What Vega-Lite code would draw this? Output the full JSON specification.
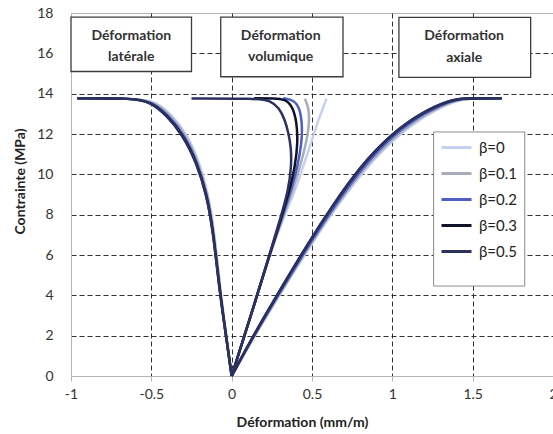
{
  "$schema": "https://vega.github.io/schema/vega-lite/v6.json",
  "width": 482,
  "height": 363,
  "autosize": {"type": "none"},
  "padding": {"left": 71, "top": 13, "right": 0, "bottom": 58},
  "background": "white",
  "config": {
    "view": {"stroke": "#b5b5b5", "strokeWidth": 1},
    "font": "Lato"
  },
  "datasets": {
    "curves": [
      {"beta":"β=0","curve":"lat","i":0,"x":0,"y":0},
      {"beta":"β=0","curve":"lat","i":1,"x":-0.033,"y":2},
      {"beta":"β=0","curve":"lat","i":2,"x":-0.068,"y":4.1},
      {"beta":"β=0","curve":"lat","i":3,"x":-0.11,"y":7.3},
      {"beta":"β=0","curve":"lat","i":4,"x":-0.145,"y":9},
      {"beta":"β=0","curve":"lat","i":5,"x":-0.2,"y":10.6},
      {"beta":"β=0","curve":"lat","i":6,"x":-0.275,"y":11.95},
      {"beta":"β=0","curve":"lat","i":7,"x":-0.37,"y":12.94},
      {"beta":"β=0","curve":"lat","i":8,"x":-0.47,"y":13.6},
      {"beta":"β=0","curve":"lat","i":9,"x":-0.58,"y":13.77},
      {"beta":"β=0","curve":"lat","i":10,"x":-0.96,"y":13.77},
      {"beta":"β=0","curve":"vol","i":0,"x":0,"y":0},
      {"beta":"β=0","curve":"vol","i":1,"x":0.12,"y":3},
      {"beta":"β=0","curve":"vol","i":2,"x":0.235,"y":6},
      {"beta":"β=0","curve":"vol","i":3,"x":0.33,"y":8},
      {"beta":"β=0","curve":"vol","i":4,"x":0.395,"y":9.2},
      {"beta":"β=0","curve":"vol","i":5,"x":0.445,"y":10.4},
      {"beta":"β=0","curve":"vol","i":6,"x":0.49,"y":11.45},
      {"beta":"β=0","curve":"vol","i":7,"x":0.535,"y":12.6},
      {"beta":"β=0","curve":"vol","i":8,"x":0.59,"y":13.75},
      {"beta":"β=0","curve":"ax","i":0,"x":0,"y":0},
      {"beta":"β=0","curve":"ax","i":1,"x":0.105,"y":1.47},
      {"beta":"β=0","curve":"ax","i":2,"x":0.25,"y":3.4},
      {"beta":"β=0","curve":"ax","i":3,"x":0.52,"y":6.85},
      {"beta":"β=0","curve":"ax","i":4,"x":0.645,"y":8.3},
      {"beta":"β=0","curve":"ax","i":5,"x":0.835,"y":10.34},
      {"beta":"β=0","curve":"ax","i":6,"x":1.04,"y":11.98},
      {"beta":"β=0","curve":"ax","i":7,"x":1.23,"y":13.04},
      {"beta":"β=0","curve":"ax","i":8,"x":1.395,"y":13.65},
      {"beta":"β=0","curve":"ax","i":9,"x":1.47,"y":13.77},
      {"beta":"β=0","curve":"ax","i":10,"x":1.68,"y":13.77},

      {"beta":"β=0.1","curve":"lat","i":0,"x":0,"y":0},
      {"beta":"β=0.1","curve":"lat","i":1,"x":-0.034,"y":2},
      {"beta":"β=0.1","curve":"lat","i":2,"x":-0.07,"y":4.1},
      {"beta":"β=0.1","curve":"lat","i":3,"x":-0.113,"y":7.3},
      {"beta":"β=0.1","curve":"lat","i":4,"x":-0.15,"y":9},
      {"beta":"β=0.1","curve":"lat","i":5,"x":-0.207,"y":10.6},
      {"beta":"β=0.1","curve":"lat","i":6,"x":-0.285,"y":11.95},
      {"beta":"β=0.1","curve":"lat","i":7,"x":-0.38,"y":12.94},
      {"beta":"β=0.1","curve":"lat","i":8,"x":-0.485,"y":13.6},
      {"beta":"β=0.1","curve":"lat","i":9,"x":-0.59,"y":13.77},
      {"beta":"β=0.1","curve":"lat","i":10,"x":-0.96,"y":13.77},
      {"beta":"β=0.1","curve":"vol","i":0,"x":0,"y":0},
      {"beta":"β=0.1","curve":"vol","i":1,"x":0.12,"y":3},
      {"beta":"β=0.1","curve":"vol","i":2,"x":0.235,"y":6},
      {"beta":"β=0.1","curve":"vol","i":3,"x":0.325,"y":8},
      {"beta":"β=0.1","curve":"vol","i":4,"x":0.38,"y":9.2},
      {"beta":"β=0.1","curve":"vol","i":5,"x":0.43,"y":10.5},
      {"beta":"β=0.1","curve":"vol","i":6,"x":0.465,"y":11.6},
      {"beta":"β=0.1","curve":"vol","i":7,"x":0.485,"y":12.6},
      {"beta":"β=0.1","curve":"vol","i":8,"x":0.478,"y":13.35},
      {"beta":"β=0.1","curve":"vol","i":9,"x":0.455,"y":13.75},
      {"beta":"β=0.1","curve":"ax","i":0,"x":0,"y":0},
      {"beta":"β=0.1","curve":"ax","i":1,"x":0.104,"y":1.48},
      {"beta":"β=0.1","curve":"ax","i":2,"x":0.247,"y":3.42},
      {"beta":"β=0.1","curve":"ax","i":3,"x":0.515,"y":6.86},
      {"beta":"β=0.1","curve":"ax","i":4,"x":0.638,"y":8.31},
      {"beta":"β=0.1","curve":"ax","i":5,"x":0.825,"y":10.36},
      {"beta":"β=0.1","curve":"ax","i":6,"x":1.027,"y":12.0},
      {"beta":"β=0.1","curve":"ax","i":7,"x":1.217,"y":13.06},
      {"beta":"β=0.1","curve":"ax","i":8,"x":1.384,"y":13.66},
      {"beta":"β=0.1","curve":"ax","i":9,"x":1.46,"y":13.77},
      {"beta":"β=0.1","curve":"ax","i":10,"x":1.68,"y":13.77},

      {"beta":"β=0.2","curve":"lat","i":0,"x":0,"y":0},
      {"beta":"β=0.2","curve":"lat","i":1,"x":-0.035,"y":2},
      {"beta":"β=0.2","curve":"lat","i":2,"x":-0.072,"y":4.1},
      {"beta":"β=0.2","curve":"lat","i":3,"x":-0.115,"y":7.3},
      {"beta":"β=0.2","curve":"lat","i":4,"x":-0.153,"y":9},
      {"beta":"β=0.2","curve":"lat","i":5,"x":-0.213,"y":10.6},
      {"beta":"β=0.2","curve":"lat","i":6,"x":-0.295,"y":11.95},
      {"beta":"β=0.2","curve":"lat","i":7,"x":-0.393,"y":12.94},
      {"beta":"β=0.2","curve":"lat","i":8,"x":-0.498,"y":13.6},
      {"beta":"β=0.2","curve":"lat","i":9,"x":-0.603,"y":13.77},
      {"beta":"β=0.2","curve":"lat","i":10,"x":-0.96,"y":13.77},
      {"beta":"β=0.2","curve":"vol","i":0,"x":0,"y":0},
      {"beta":"β=0.2","curve":"vol","i":1,"x":0.12,"y":3},
      {"beta":"β=0.2","curve":"vol","i":2,"x":0.235,"y":6},
      {"beta":"β=0.2","curve":"vol","i":3,"x":0.32,"y":8},
      {"beta":"β=0.2","curve":"vol","i":4,"x":0.37,"y":9.2},
      {"beta":"β=0.2","curve":"vol","i":5,"x":0.41,"y":10.4},
      {"beta":"β=0.2","curve":"vol","i":6,"x":0.435,"y":11.5},
      {"beta":"β=0.2","curve":"vol","i":7,"x":0.44,"y":12.4},
      {"beta":"β=0.2","curve":"vol","i":8,"x":0.425,"y":13.25},
      {"beta":"β=0.2","curve":"vol","i":9,"x":0.39,"y":13.68},
      {"beta":"β=0.2","curve":"vol","i":10,"x":0.32,"y":13.77},
      {"beta":"β=0.2","curve":"ax","i":0,"x":0,"y":0},
      {"beta":"β=0.2","curve":"ax","i":1,"x":0.103,"y":1.5},
      {"beta":"β=0.2","curve":"ax","i":2,"x":0.245,"y":3.44},
      {"beta":"β=0.2","curve":"ax","i":3,"x":0.51,"y":6.88},
      {"beta":"β=0.2","curve":"ax","i":4,"x":0.632,"y":8.33},
      {"beta":"β=0.2","curve":"ax","i":5,"x":0.815,"y":10.38},
      {"beta":"β=0.2","curve":"ax","i":6,"x":1.015,"y":12.03},
      {"beta":"β=0.2","curve":"ax","i":7,"x":1.205,"y":13.08},
      {"beta":"β=0.2","curve":"ax","i":8,"x":1.372,"y":13.67},
      {"beta":"β=0.2","curve":"ax","i":9,"x":1.45,"y":13.77},
      {"beta":"β=0.2","curve":"ax","i":10,"x":1.68,"y":13.77},

      {"beta":"β=0.3","curve":"lat","i":0,"x":0,"y":0},
      {"beta":"β=0.3","curve":"lat","i":1,"x":-0.035,"y":2},
      {"beta":"β=0.3","curve":"lat","i":2,"x":-0.073,"y":4.1},
      {"beta":"β=0.3","curve":"lat","i":3,"x":-0.117,"y":7.3},
      {"beta":"β=0.3","curve":"lat","i":4,"x":-0.156,"y":9},
      {"beta":"β=0.3","curve":"lat","i":5,"x":-0.218,"y":10.6},
      {"beta":"β=0.3","curve":"lat","i":6,"x":-0.302,"y":11.95},
      {"beta":"β=0.3","curve":"lat","i":7,"x":-0.403,"y":12.94},
      {"beta":"β=0.3","curve":"lat","i":8,"x":-0.507,"y":13.6},
      {"beta":"β=0.3","curve":"lat","i":9,"x":-0.612,"y":13.77},
      {"beta":"β=0.3","curve":"lat","i":10,"x":-0.96,"y":13.77},
      {"beta":"β=0.3","curve":"vol","i":0,"x":0,"y":0},
      {"beta":"β=0.3","curve":"vol","i":1,"x":0.12,"y":3},
      {"beta":"β=0.3","curve":"vol","i":2,"x":0.235,"y":6},
      {"beta":"β=0.3","curve":"vol","i":3,"x":0.315,"y":8},
      {"beta":"β=0.3","curve":"vol","i":4,"x":0.36,"y":9.2},
      {"beta":"β=0.3","curve":"vol","i":5,"x":0.395,"y":10.4},
      {"beta":"β=0.3","curve":"vol","i":6,"x":0.412,"y":11.6},
      {"beta":"β=0.3","curve":"vol","i":7,"x":0.405,"y":12.6},
      {"beta":"β=0.3","curve":"vol","i":8,"x":0.378,"y":13.4},
      {"beta":"β=0.3","curve":"vol","i":9,"x":0.33,"y":13.72},
      {"beta":"β=0.3","curve":"vol","i":10,"x":0.27,"y":13.77},
      {"beta":"β=0.3","curve":"vol","i":11,"x":0.14,"y":13.77},
      {"beta":"β=0.3","curve":"ax","i":0,"x":0,"y":0},
      {"beta":"β=0.3","curve":"ax","i":1,"x":0.1,"y":1.5},
      {"beta":"β=0.3","curve":"ax","i":2,"x":0.24,"y":3.45},
      {"beta":"β=0.3","curve":"ax","i":3,"x":0.5,"y":6.9},
      {"beta":"β=0.3","curve":"ax","i":4,"x":0.62,"y":8.35},
      {"beta":"β=0.3","curve":"ax","i":5,"x":0.8,"y":10.4},
      {"beta":"β=0.3","curve":"ax","i":6,"x":1.0,"y":12.05},
      {"beta":"β=0.3","curve":"ax","i":7,"x":1.19,"y":13.1},
      {"beta":"β=0.3","curve":"ax","i":8,"x":1.36,"y":13.68},
      {"beta":"β=0.3","curve":"ax","i":9,"x":1.44,"y":13.77},
      {"beta":"β=0.3","curve":"ax","i":10,"x":1.68,"y":13.77},

      {"beta":"β=0.5","curve":"lat","i":0,"x":0,"y":0},
      {"beta":"β=0.5","curve":"lat","i":1,"x":-0.035,"y":2},
      {"beta":"β=0.5","curve":"lat","i":2,"x":-0.074,"y":4.1},
      {"beta":"β=0.5","curve":"lat","i":3,"x":-0.118,"y":7.3},
      {"beta":"β=0.5","curve":"lat","i":4,"x":-0.157,"y":9},
      {"beta":"β=0.5","curve":"lat","i":5,"x":-0.22,"y":10.6},
      {"beta":"β=0.5","curve":"lat","i":6,"x":-0.305,"y":11.95},
      {"beta":"β=0.5","curve":"lat","i":7,"x":-0.406,"y":12.94},
      {"beta":"β=0.5","curve":"lat","i":8,"x":-0.51,"y":13.6},
      {"beta":"β=0.5","curve":"lat","i":9,"x":-0.616,"y":13.77},
      {"beta":"β=0.5","curve":"lat","i":10,"x":-0.96,"y":13.77},
      {"beta":"β=0.5","curve":"vol","i":0,"x":0,"y":0},
      {"beta":"β=0.5","curve":"vol","i":1,"x":0.12,"y":3},
      {"beta":"β=0.5","curve":"vol","i":2,"x":0.235,"y":6},
      {"beta":"β=0.5","curve":"vol","i":3,"x":0.31,"y":8},
      {"beta":"β=0.5","curve":"vol","i":4,"x":0.352,"y":9.2},
      {"beta":"β=0.5","curve":"vol","i":5,"x":0.372,"y":10.4},
      {"beta":"β=0.5","curve":"vol","i":6,"x":0.37,"y":11.3},
      {"beta":"β=0.5","curve":"vol","i":7,"x":0.355,"y":12.0},
      {"beta":"β=0.5","curve":"vol","i":8,"x":0.332,"y":12.7},
      {"beta":"β=0.5","curve":"vol","i":9,"x":0.295,"y":13.3},
      {"beta":"β=0.5","curve":"vol","i":10,"x":0.24,"y":13.66},
      {"beta":"β=0.5","curve":"vol","i":11,"x":0.16,"y":13.76},
      {"beta":"β=0.5","curve":"vol","i":12,"x":-0.25,"y":13.76},
      {"beta":"β=0.5","curve":"ax","i":0,"x":0,"y":0},
      {"beta":"β=0.5","curve":"ax","i":1,"x":0.1,"y":1.5},
      {"beta":"β=0.5","curve":"ax","i":2,"x":0.24,"y":3.45},
      {"beta":"β=0.5","curve":"ax","i":3,"x":0.5,"y":6.9},
      {"beta":"β=0.5","curve":"ax","i":4,"x":0.62,"y":8.35},
      {"beta":"β=0.5","curve":"ax","i":5,"x":0.8,"y":10.4},
      {"beta":"β=0.5","curve":"ax","i":6,"x":1.0,"y":12.05},
      {"beta":"β=0.5","curve":"ax","i":7,"x":1.19,"y":13.1},
      {"beta":"β=0.5","curve":"ax","i":8,"x":1.36,"y":13.68},
      {"beta":"β=0.5","curve":"ax","i":9,"x":1.44,"y":13.77},
      {"beta":"β=0.5","curve":"ax","i":10,"x":1.68,"y":13.77}
    ],
    "boxes": [
      {"x": -1.0, "x2": -0.25, "y": 17.8, "y2": 15.1},
      {"x": -0.068, "x2": 0.693, "y": 17.8, "y2": 14.84},
      {"x": 1.041, "x2": 1.861, "y": 17.78, "y2": 14.81}
    ],
    "legendbox": [
      {"x": 1.257, "x2": 1.824, "y": 12.1, "y2": 4.46}
    ],
    "labels": [
      {"x": -0.625, "y": 16.85, "text": "Déformation"},
      {"x": -0.625, "y": 15.82, "text": "latérale"},
      {"x": 0.305, "y": 16.85, "text": "Déformation"},
      {"x": 0.305, "y": 15.82, "text": "volumique"},
      {"x": 1.447, "y": 16.85, "text": "Déformation"},
      {"x": 1.447, "y": 15.78, "text": "axiale"}
    ]
  },
  "encoding": {
    "x": {
      "field": "x",
      "type": "quantitative",
      "scale": {"domain": [-1, 2], "nice": false, "zero": false},
      "title": "Déformation (mm/m)",
      "axis": {
        "values": [-1, -0.5, 0, 0.5, 1, 1.5, 2],
        "labelExpr": "'' + datum.value",
        "grid": true,
        "gridColor": {"condition": {"test": "datum.value == -1", "value": "rgba(0,0,0,0)"}, "value": "#333333"},
        "gridDash": [5, 3],
        "gridWidth": 1,
        "domainColor": "#b5b5b5",
        "tickColor": "#b5b5b5",
        "tickSize": 5,
        "labelFont": "Lato",
        "labelFontSize": 14,
        "labelColor": "#333333",
        "labelPadding": 6,
        "labelFlush": false,
        "labelOverlap": false,
        "titleFont": "Lato",
        "titleFontSize": 14,
        "titleFontWeight": "bold",
        "titleColor": "#222222",
        "titleX": 231,
        "titleY": 46,
        "titleBaseline": "middle"
      }
    },
    "y": {
      "field": "y",
      "type": "quantitative",
      "scale": {"domain": [0, 18], "nice": false},
      "title": "Contrainte (MPa)",
      "axis": {
        "values": [0, 2, 4, 6, 8, 10, 12, 14, 16, 18],
        "grid": true,
        "gridColor": {"condition": {"test": "datum.value == 0 || datum.value == 18", "value": "rgba(0,0,0,0)"}, "value": "#333333"},
        "gridDash": [5, 3],
        "gridWidth": 1,
        "domainColor": "#b5b5b5",
        "ticks": false,
        "labelFont": "Lato",
        "labelFontSize": 14,
        "labelColor": "#333333",
        "labelPadding": 18,
        "titleFont": "Lato",
        "titleFontSize": 14,
        "titleFontWeight": "bold",
        "titleColor": "#222222",
        "titleX": -51,
        "titleY": 168,
        "titleBaseline": "middle",
        "titleAlign": "center"
      }
    }
  },
  "layer": [
    {
      "data": {"name": "curves"},
      "mark": {"type": "line", "strokeWidth": 2.5, "interpolate": "basis"},
      "encoding": {
        "color": {
          "field": "beta",
          "type": "nominal",
          "scale": {
            "domain": ["β=0", "β=0.1", "β=0.2", "β=0.3", "β=0.5"],
            "range": ["#c6d0f2", "#a7adb9", "#4e5fc4", "#101228", "#2c3160"]
          },
          "legend": {
            "title": null,
            "orient": "none",
            "legendX": 369,
            "legendY": 118,
            "symbolType": "stroke",
            "symbolSize": 900,
            "symbolStrokeWidth": 3,
            "labelFont": "Lato",
            "labelFontSize": 15,
            "labelColor": "#222222",
            "labelOffset": 6,
            "rowPadding": 1,
            "padding": 0
          }
        },
        "detail": {"field": "curve", "type": "nominal"},
        "order": {"field": "i", "type": "quantitative"}
      }
    },
    {
      "data": {"name": "boxes"},
      "mark": {"type": "rect", "fill": "white", "stroke": "#3c3c3c", "strokeWidth": 1.3},
      "encoding": {
        "x2": {"field": "x2"},
        "y2": {"field": "y2"}
      }
    },
    {
      "data": {"name": "legendbox"},
      "mark": {"type": "rect", "fill": "white", "stroke": "#8a8a8a", "strokeWidth": 1},
      "encoding": {
        "x2": {"field": "x2"},
        "y2": {"field": "y2"}
      }
    },
    {
      "data": {"name": "labels"},
      "mark": {"type": "text", "font": "Lato", "fontSize": 14, "fontWeight": "bold", "color": "#333333", "align": "center", "baseline": "middle"},
      "encoding": {
        "text": {"field": "text", "type": "nominal"}
      }
    }
  ]
}
